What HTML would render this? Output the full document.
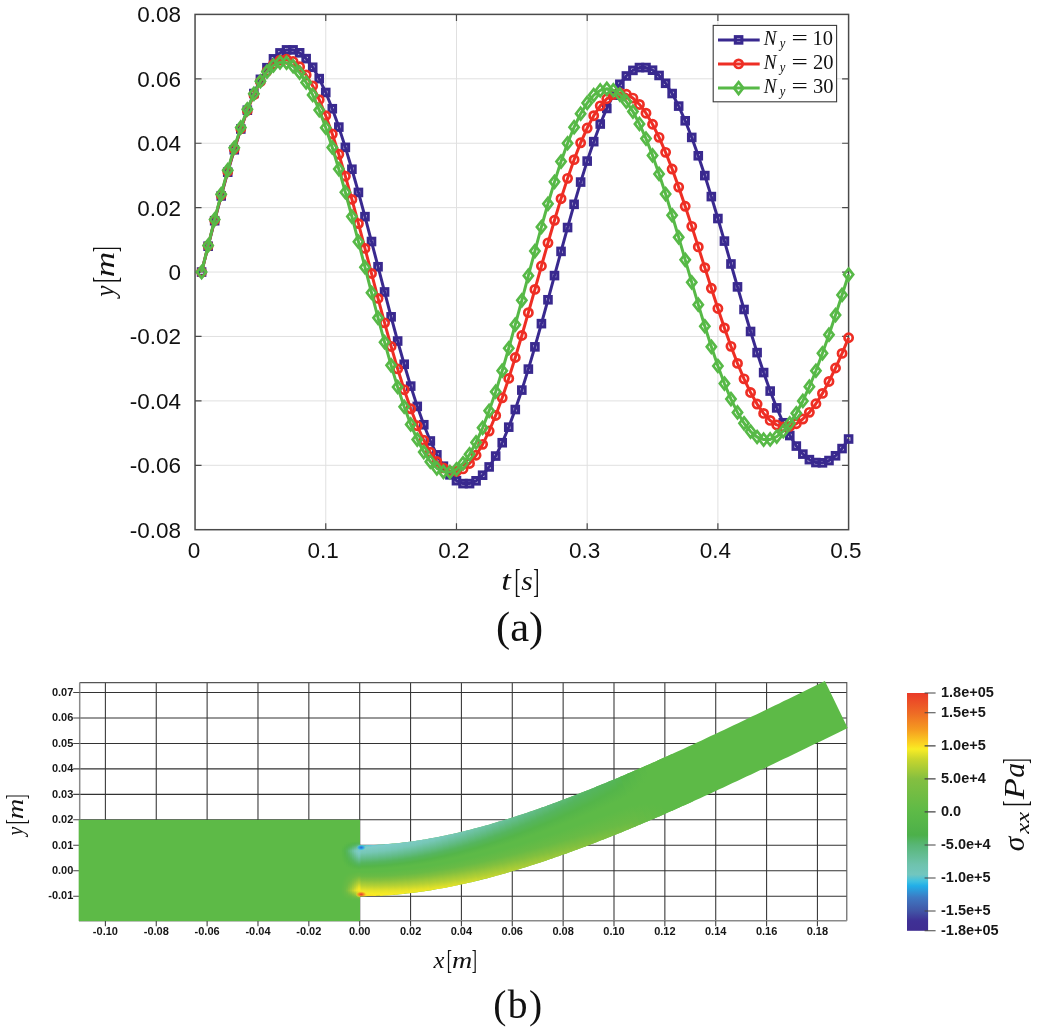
<!DOCTYPE html>
<html><head><meta charset="utf-8"><title>Figure</title>
<style>html,body{margin:0;padding:0;background:#fff}svg{display:block}</style></head>
<body>
<svg width="1037" height="1031" viewBox="0 0 1037 1031">
<defs>
<marker id="mb" markerWidth="12" markerHeight="12" refX="6" refY="6" markerUnits="userSpaceOnUse"><rect x="2.75" y="2.75" width="6.5" height="6.5" fill="none" stroke="#39298f" stroke-width="3.1"/></marker>
<marker id="mr" markerWidth="14" markerHeight="14" refX="7" refY="7" markerUnits="userSpaceOnUse"><circle cx="7" cy="7" r="4.1" fill="none" stroke="#ee2e24" stroke-width="2.7"/></marker>
<marker id="mg" markerWidth="16" markerHeight="18" refX="8" refY="9" markerUnits="userSpaceOnUse"><path d="M8 3.1 L12.6 9 L8 14.9 L3.4 9 Z" fill="none" stroke="#57b947" stroke-width="2.7" stroke-linejoin="miter"/></marker>
</defs>
<rect width="1037" height="1031" fill="#fff"/>
<path d="M325.76 14.4 V529.7 M456.47 14.4 V529.7 M587.18 14.4 V529.7 M717.89 14.4 V529.7 M195.05 465.29 H848.6 M195.05 400.88 H848.6 M195.05 336.46 H848.6 M195.05 272.05 H848.6 M195.05 207.64 H848.6 M195.05 143.23 H848.6 M195.05 78.81 H848.6" stroke="#e0e0e0" stroke-width="1" fill="none"/>
<path d="M325.76 529.7 v-6.5 M325.76 14.4 v6.5 M456.47 529.7 v-6.5 M456.47 14.4 v6.5 M587.18 529.7 v-6.5 M587.18 14.4 v6.5 M717.89 529.7 v-6.5 M717.89 14.4 v6.5 M195.05 465.29 h6.5 M848.6 465.29 h-6.5 M195.05 400.88 h6.5 M848.6 400.88 h-6.5 M195.05 336.46 h6.5 M848.6 336.46 h-6.5 M195.05 272.05 h6.5 M848.6 272.05 h-6.5 M195.05 207.64 h6.5 M848.6 207.64 h-6.5 M195.05 143.23 h6.5 M848.6 143.23 h-6.5 M195.05 78.81 h6.5 M848.6 78.81 h-6.5" stroke="#4a4a4a" stroke-width="1.2" fill="none"/>
<rect x="195.05" y="14.4" width="653.55" height="515.30" fill="none" stroke="#4a4a4a" stroke-width="1.5"/>
<polyline points="201.59,272.05 208.12,246.21 214.66,220.73 221.19,195.94 227.73,172.17 234.26,149.76 240.80,129.00 247.33,110.18 253.87,93.54 260.41,79.32 266.94,67.71 273.48,58.85 280.01,52.89 286.55,49.88 293.08,49.87 299.62,52.81 306.15,58.63 312.69,67.27 319.22,78.61 325.76,92.49 332.30,108.73 338.83,127.10 345.37,147.37 351.90,169.24 358.44,192.44 364.97,216.64 371.51,241.52 378.04,266.74 384.58,291.95 391.12,316.83 397.65,341.03 404.19,364.23 410.72,386.11 417.26,406.37 423.79,424.74 430.33,440.98 436.86,454.86 443.40,466.20 449.93,474.84 456.47,480.67 463.01,483.60 469.54,483.61 476.08,480.80 482.61,475.21 489.15,466.93 495.68,456.05 502.22,442.73 508.75,427.16 515.29,409.53 521.83,390.10 528.36,369.11 534.90,346.86 541.43,323.65 547.97,299.78 554.50,275.59 561.04,251.40 567.57,227.54 574.11,204.32 580.64,182.07 587.18,161.09 593.72,141.65 600.25,124.03 606.79,108.45 613.32,95.14 619.86,84.26 626.39,75.97 632.93,70.38 639.46,67.57 646.00,67.55 652.54,70.20 659.07,75.47 665.61,83.29 672.14,93.54 678.68,106.10 685.21,120.79 691.75,137.43 698.28,155.77 704.82,175.58 711.35,196.60 717.89,218.53 724.43,241.10 730.96,263.98 737.50,286.88 744.03,309.48 750.57,331.49 757.10,352.61 763.64,372.56 770.17,391.06 776.71,407.88 783.24,422.77 789.78,435.55 796.32,446.05 802.85,454.11 809.39,459.64 815.92,462.55 822.46,462.83 828.99,460.55 835.53,455.78 842.06,448.57 848.60,439.02" fill="none" stroke="#39298f" stroke-width="3" stroke-linejoin="round" marker-start="url(#mb)" marker-mid="url(#mb)" marker-end="url(#mb)"/>
<polyline points="201.59,272.05 208.12,245.91 214.66,220.16 221.19,195.21 227.73,171.41 234.26,149.14 240.80,128.72 247.33,110.48 253.87,94.68 260.41,81.57 266.94,71.34 273.48,64.14 280.01,60.10 286.55,59.25 293.08,61.51 299.62,66.77 306.15,74.97 312.69,85.97 319.22,99.63 325.76,115.74 332.30,134.05 338.83,154.31 345.37,176.20 351.90,199.42 358.44,223.61 364.97,248.41 371.51,273.47 378.04,298.41 384.58,322.86 391.12,346.47 397.65,368.88 404.19,389.76 410.72,408.81 417.26,425.74 423.79,440.30 430.33,452.28 436.86,461.51 443.40,467.84 449.93,471.18 456.47,471.50 463.01,468.90 469.54,463.45 476.08,455.23 482.61,444.37 489.15,431.04 495.68,415.43 502.22,397.79 508.75,378.39 515.29,357.52 521.83,335.50 528.36,312.67 534.90,289.38 541.43,265.98 547.97,242.83 554.50,220.28 561.04,198.69 567.57,178.37 574.11,159.64 580.64,142.78 587.18,128.06 593.72,115.69 600.25,105.87 606.79,98.75 613.32,94.43 619.86,92.98 626.39,94.27 632.93,98.12 639.46,104.47 646.00,113.22 652.54,124.24 659.07,137.36 665.61,152.37 672.14,169.04 678.68,187.12 685.21,206.32 691.75,226.35 698.28,246.90 704.82,267.65 711.35,288.29 717.89,308.48 724.43,327.93 730.96,346.33 737.50,363.39 744.03,378.86 750.57,392.49 757.10,404.07 763.64,413.42 770.17,420.41 776.71,424.92 783.24,426.87 789.78,426.38 796.32,423.76 802.85,419.06 809.39,412.37 815.92,403.77 822.46,393.41 828.99,381.43 835.53,368.02 842.06,353.38 848.60,337.74" fill="none" stroke="#ee2e24" stroke-width="3" stroke-linejoin="round" marker-start="url(#mr)" marker-mid="url(#mr)" marker-end="url(#mr)"/>
<polyline points="201.59,272.05 208.12,245.52 214.66,219.42 221.19,194.16 227.73,170.14 234.26,147.76 240.80,127.38 247.33,109.31 253.87,93.85 260.41,81.24 266.94,71.70 273.48,65.36 280.01,62.33 286.55,62.64 293.08,66.13 299.62,72.75 306.15,82.38 312.69,94.88 319.22,110.06 325.76,127.68 332.30,147.46 338.83,169.10 345.37,192.27 351.90,216.60 358.44,241.71 364.97,267.22 371.51,292.73 378.04,317.84 384.58,342.17 391.12,365.33 397.65,386.98 404.19,406.76 410.72,424.38 417.26,439.55 423.79,452.06 430.33,461.69 436.86,468.31 443.40,471.80 449.93,472.12 456.47,469.27 463.01,463.29 469.54,454.29 476.08,442.41 482.61,427.86 489.15,410.86 495.68,391.71 502.22,370.72 508.75,348.24 515.29,324.64 521.83,300.30 528.36,275.65 534.90,251.07 541.43,226.98 547.97,203.78 554.50,181.85 561.04,161.56 567.57,143.24 574.11,127.18 580.64,113.67 587.18,102.93 593.72,95.12 600.25,90.38 606.79,88.80 613.32,90.25 619.86,94.58 626.39,101.73 632.93,111.56 639.46,123.93 646.00,138.62 652.54,155.39 659.07,173.96 665.61,194.03 672.14,215.26 678.68,237.31 685.21,259.80 691.75,282.37 698.28,304.64 704.82,326.24 711.35,346.81 717.89,366.02 724.43,383.55 730.96,399.10 737.50,412.42 744.03,423.29 750.57,431.53 757.10,437.00 763.64,439.61 770.17,439.38 776.71,436.54 783.24,431.18 789.78,423.37 796.32,413.24 802.85,400.96 809.39,386.71 815.92,370.74 822.46,353.28 828.99,334.64 835.53,315.09 842.06,294.96 848.60,274.57" fill="none" stroke="#57b947" stroke-width="3" stroke-linejoin="round" marker-start="url(#mg)" marker-mid="url(#mg)" marker-end="url(#mg)"/>
<g font-family="'Liberation Sans', sans-serif" font-size="22.5" fill="#111">
<text x="193.9" y="558.2" text-anchor="middle">0</text>
<text x="323.2" y="558.2" text-anchor="middle">0.1</text>
<text x="453.9" y="558.2" text-anchor="middle">0.2</text>
<text x="584.6" y="558.2" text-anchor="middle">0.3</text>
<text x="715.3" y="558.2" text-anchor="middle">0.4</text>
<text x="846.0" y="558.2" text-anchor="middle">0.5</text>
<text x="181" y="537.6" text-anchor="end">-0.08</text>
<text x="181" y="473.2" text-anchor="end">-0.06</text>
<text x="181" y="408.8" text-anchor="end">-0.04</text>
<text x="181" y="344.4" text-anchor="end">-0.02</text>
<text x="181" y="279.9" text-anchor="end">0</text>
<text x="181" y="215.5" text-anchor="end">0.02</text>
<text x="181" y="151.1" text-anchor="end">0.04</text>
<text x="181" y="86.7" text-anchor="end">0.06</text>
<text x="181" y="22.3" text-anchor="end">0.08</text>
</g>
<rect x="713.2" y="25.4" width="123.4" height="76.4" fill="#fff" stroke="#3a3a3a" stroke-width="1.1"/>
<polyline points="718,39.9 738.6,39.9 759.7,39.9" fill="none" stroke="#39298f" stroke-width="3" marker-mid="url(#mb)"/>
<text font-family="'Liberation Serif', serif" fill="#111"><tspan x="763.79" y="44.65" font-size="20.5" font-style="italic" textLength="12.79" lengthAdjust="spacingAndGlyphs">N</tspan><tspan x="779.83" y="47.65" font-size="14" font-style="italic" textLength="5.59" lengthAdjust="spacingAndGlyphs">y</tspan><tspan x="791.64" y="44.65" font-size="20.5" textLength="16.33" lengthAdjust="spacingAndGlyphs">=</tspan><tspan x="812.60" y="44.65" font-size="20.5">10</tspan></text>
<polyline points="718,63.9 738.6,63.9 759.7,63.9" fill="none" stroke="#ee2e24" stroke-width="3" marker-mid="url(#mr)"/>
<text font-family="'Liberation Serif', serif" fill="#111"><tspan x="763.79" y="68.65" font-size="20.5" font-style="italic" textLength="12.79" lengthAdjust="spacingAndGlyphs">N</tspan><tspan x="779.83" y="71.65" font-size="14" font-style="italic" textLength="5.59" lengthAdjust="spacingAndGlyphs">y</tspan><tspan x="791.64" y="68.65" font-size="20.5" textLength="16.33" lengthAdjust="spacingAndGlyphs">=</tspan><tspan x="813.00" y="68.65" font-size="20.5">20</tspan></text>
<polyline points="718,88.05 738.6,88.05 759.7,88.05" fill="none" stroke="#57b947" stroke-width="3" marker-mid="url(#mg)"/>
<text font-family="'Liberation Serif', serif" fill="#111"><tspan x="763.79" y="92.80" font-size="20.5" font-style="italic" textLength="12.79" lengthAdjust="spacingAndGlyphs">N</tspan><tspan x="779.83" y="95.80" font-size="14" font-style="italic" textLength="5.59" lengthAdjust="spacingAndGlyphs">y</tspan><tspan x="791.64" y="92.80" font-size="20.5" textLength="16.33" lengthAdjust="spacingAndGlyphs">=</tspan><tspan x="813.00" y="92.80" font-size="20.5">30</tspan></text>
<text font-family="'Liberation Serif', serif" fill="#111"><tspan x="501.32" y="589.80" font-size="28" font-style="italic" textLength="9.62" lengthAdjust="spacingAndGlyphs">t</tspan><tspan x="514.47" y="592.10" font-size="34.2" textLength="6.08" lengthAdjust="spacingAndGlyphs">[</tspan><tspan x="521.20" y="589.80" font-size="26.5" font-style="italic" textLength="11.56" lengthAdjust="spacingAndGlyphs">s</tspan><tspan x="533.35" y="592.10" font-size="34.2" textLength="6.08" lengthAdjust="spacingAndGlyphs">]</tspan></text>
<text font-family="'Liberation Serif', serif" fill="#111" transform="translate(113.9 299.0) rotate(-90)"><tspan x="2.27" y="0.00" font-size="27.5" font-style="italic" textLength="11.18" lengthAdjust="spacingAndGlyphs">y</tspan><tspan x="16.18" y="2.40" font-size="34.3" textLength="5.79" lengthAdjust="spacingAndGlyphs">[</tspan><tspan x="21.84" y="0.00" font-size="27.5" font-style="italic" textLength="25.50" lengthAdjust="spacingAndGlyphs">m</tspan><tspan x="46.68" y="2.40" font-size="34.3" textLength="5.79" lengthAdjust="spacingAndGlyphs">]</tspan></text>
<text font-family="'Liberation Serif', serif" font-size="42.5" fill="#111" x="519.6" y="640.5" text-anchor="middle">(a)</text>
<defs><linearGradient id="g0" gradientUnits="userSpaceOnUse" x1="362.1" y1="845.3" x2="362.4" y2="896.2"><stop offset="0.000" stop-color="#5bc5d8"/><stop offset="0.051" stop-color="#80ccc8"/><stop offset="0.149" stop-color="#76c7b6"/><stop offset="0.256" stop-color="#63bc8a"/><stop offset="0.346" stop-color="#55b55e"/><stop offset="0.414" stop-color="#54b549"/><stop offset="0.477" stop-color="#5dba47"/><stop offset="0.523" stop-color="#5dba47"/><stop offset="0.608" stop-color="#69bb45"/><stop offset="0.679" stop-color="#82c03f"/><stop offset="0.790" stop-color="#b4d034"/><stop offset="0.883" stop-color="#e6e328"/><stop offset="0.949" stop-color="#f8ec25"/><stop offset="0.997" stop-color="#fbd821"/><stop offset="1.000" stop-color="#fbd721"/></linearGradient>
<linearGradient id="g1" gradientUnits="userSpaceOnUse" x1="368.0" y1="845.2" x2="369.2" y2="896.1"><stop offset="0.000" stop-color="#62c6d5"/><stop offset="0.043" stop-color="#80ccc8"/><stop offset="0.142" stop-color="#76c7b6"/><stop offset="0.251" stop-color="#63bc8a"/><stop offset="0.343" stop-color="#55b55e"/><stop offset="0.412" stop-color="#54b549"/><stop offset="0.476" stop-color="#5dba47"/><stop offset="0.524" stop-color="#5dba47"/><stop offset="0.610" stop-color="#69bb45"/><stop offset="0.683" stop-color="#82c03f"/><stop offset="0.796" stop-color="#b4d034"/><stop offset="0.890" stop-color="#e6e328"/><stop offset="0.957" stop-color="#f8ec25"/><stop offset="1.000" stop-color="#fbda21"/></linearGradient>
<linearGradient id="g2" gradientUnits="userSpaceOnUse" x1="373.9" y1="845.0" x2="376.0" y2="895.9"><stop offset="0.000" stop-color="#69c8d3"/><stop offset="0.034" stop-color="#80ccc8"/><stop offset="0.135" stop-color="#76c7b6"/><stop offset="0.247" stop-color="#63bc8a"/><stop offset="0.340" stop-color="#55b55e"/><stop offset="0.410" stop-color="#54b549"/><stop offset="0.476" stop-color="#5dba47"/><stop offset="0.524" stop-color="#5dba47"/><stop offset="0.612" stop-color="#69bb45"/><stop offset="0.686" stop-color="#82c03f"/><stop offset="0.801" stop-color="#b4d034"/><stop offset="0.898" stop-color="#e6e328"/><stop offset="0.966" stop-color="#f8ec25"/><stop offset="1.000" stop-color="#fade22"/></linearGradient>
<linearGradient id="g3" gradientUnits="userSpaceOnUse" x1="381.0" y1="844.6" x2="384.1" y2="895.5"><stop offset="0.000" stop-color="#70c9cf"/><stop offset="0.023" stop-color="#80ccc8"/><stop offset="0.127" stop-color="#76c7b6"/><stop offset="0.241" stop-color="#63bc8a"/><stop offset="0.336" stop-color="#55b55e"/><stop offset="0.408" stop-color="#54b549"/><stop offset="0.475" stop-color="#5dba47"/><stop offset="0.525" stop-color="#5dba47"/><stop offset="0.615" stop-color="#69bb45"/><stop offset="0.691" stop-color="#82c03f"/><stop offset="0.808" stop-color="#b4d034"/><stop offset="0.907" stop-color="#e6e328"/><stop offset="0.977" stop-color="#f8ec25"/><stop offset="1.000" stop-color="#f9e323"/></linearGradient>
<linearGradient id="g4" gradientUnits="userSpaceOnUse" x1="387.0" y1="844.2" x2="390.9" y2="895.0"><stop offset="0.000" stop-color="#77cacc"/><stop offset="0.013" stop-color="#80ccc8"/><stop offset="0.119" stop-color="#76c7b6"/><stop offset="0.236" stop-color="#63bc8a"/><stop offset="0.333" stop-color="#55b55e"/><stop offset="0.406" stop-color="#54b549"/><stop offset="0.475" stop-color="#5dba47"/><stop offset="0.525" stop-color="#5dba47"/><stop offset="0.617" stop-color="#69bb45"/><stop offset="0.695" stop-color="#82c03f"/><stop offset="0.815" stop-color="#b4d034"/><stop offset="0.915" stop-color="#e6e328"/><stop offset="0.987" stop-color="#f8ec25"/><stop offset="1.000" stop-color="#f9e724"/></linearGradient>
<linearGradient id="g5" gradientUnits="userSpaceOnUse" x1="392.9" y1="843.6" x2="397.6" y2="894.4"><stop offset="0.000" stop-color="#7eccc9"/><stop offset="0.003" stop-color="#80ccc8"/><stop offset="0.112" stop-color="#76c7b6"/><stop offset="0.230" stop-color="#63bc8a"/><stop offset="0.329" stop-color="#55b55e"/><stop offset="0.404" stop-color="#54b549"/><stop offset="0.474" stop-color="#5dba47"/><stop offset="0.526" stop-color="#5dba47"/><stop offset="0.619" stop-color="#69bb45"/><stop offset="0.698" stop-color="#82c03f"/><stop offset="0.821" stop-color="#b4d034"/><stop offset="0.924" stop-color="#e6e328"/><stop offset="0.997" stop-color="#f8ec25"/><stop offset="1.000" stop-color="#f8eb25"/></linearGradient>
<linearGradient id="g6" gradientUnits="userSpaceOnUse" x1="398.8" y1="843.0" x2="404.3" y2="893.8"><stop offset="0.000" stop-color="#7fccc7"/><stop offset="0.103" stop-color="#76c7b6"/><stop offset="0.224" stop-color="#63bc8a"/><stop offset="0.326" stop-color="#55b55e"/><stop offset="0.402" stop-color="#54b549"/><stop offset="0.474" stop-color="#5dba47"/><stop offset="0.526" stop-color="#5dba47"/><stop offset="0.622" stop-color="#69bb45"/><stop offset="0.703" stop-color="#82c03f"/><stop offset="0.828" stop-color="#b4d034"/><stop offset="0.932" stop-color="#e6e328"/><stop offset="1.000" stop-color="#f6eb25"/></linearGradient>
<linearGradient id="g7" gradientUnits="userSpaceOnUse" x1="406.0" y1="842.2" x2="412.3" y2="892.9"><stop offset="0.000" stop-color="#7ecbc5"/><stop offset="0.093" stop-color="#76c7b6"/><stop offset="0.217" stop-color="#63bc8a"/><stop offset="0.321" stop-color="#55b55e"/><stop offset="0.400" stop-color="#54b549"/><stop offset="0.473" stop-color="#5dba47"/><stop offset="0.527" stop-color="#5dba47"/><stop offset="0.625" stop-color="#69bb45"/><stop offset="0.708" stop-color="#82c03f"/><stop offset="0.836" stop-color="#b4d034"/><stop offset="0.943" stop-color="#e6e328"/><stop offset="1.000" stop-color="#f3ea26"/></linearGradient>
<linearGradient id="g8" gradientUnits="userSpaceOnUse" x1="411.9" y1="841.4" x2="419.0" y2="892.0"><stop offset="0.000" stop-color="#7dcbc3"/><stop offset="0.085" stop-color="#76c7b6"/><stop offset="0.211" stop-color="#63bc8a"/><stop offset="0.317" stop-color="#55b55e"/><stop offset="0.398" stop-color="#54b549"/><stop offset="0.472" stop-color="#5dba47"/><stop offset="0.528" stop-color="#5dba47"/><stop offset="0.628" stop-color="#69bb45"/><stop offset="0.712" stop-color="#82c03f"/><stop offset="0.843" stop-color="#b4d034"/><stop offset="0.953" stop-color="#e6e328"/><stop offset="1.000" stop-color="#f1e826"/></linearGradient>
<linearGradient id="g9" gradientUnits="userSpaceOnUse" x1="417.9" y1="840.5" x2="425.6" y2="891.0"><stop offset="0.000" stop-color="#7ccac2"/><stop offset="0.075" stop-color="#76c7b6"/><stop offset="0.205" stop-color="#63bc8a"/><stop offset="0.313" stop-color="#55b55e"/><stop offset="0.395" stop-color="#54b549"/><stop offset="0.472" stop-color="#5dba47"/><stop offset="0.528" stop-color="#5dba47"/><stop offset="0.630" stop-color="#69bb45"/><stop offset="0.717" stop-color="#82c03f"/><stop offset="0.851" stop-color="#b4d034"/><stop offset="0.963" stop-color="#e6e328"/><stop offset="1.000" stop-color="#eee727"/></linearGradient>
<linearGradient id="g10" gradientUnits="userSpaceOnUse" x1="425.1" y1="839.4" x2="433.5" y2="889.8"><stop offset="0.000" stop-color="#7bcac0"/><stop offset="0.064" stop-color="#76c7b6"/><stop offset="0.197" stop-color="#63bc8a"/><stop offset="0.308" stop-color="#55b55e"/><stop offset="0.393" stop-color="#54b549"/><stop offset="0.471" stop-color="#5dba47"/><stop offset="0.529" stop-color="#5dba47"/><stop offset="0.634" stop-color="#69bb45"/><stop offset="0.723" stop-color="#82c03f"/><stop offset="0.860" stop-color="#b4d034"/><stop offset="0.976" stop-color="#e6e328"/><stop offset="1.000" stop-color="#ebe627"/></linearGradient>
<linearGradient id="g11" gradientUnits="userSpaceOnUse" x1="431.0" y1="838.3" x2="440.1" y2="888.6"><stop offset="0.000" stop-color="#7ac9be"/><stop offset="0.054" stop-color="#76c7b6"/><stop offset="0.190" stop-color="#63bc8a"/><stop offset="0.304" stop-color="#55b55e"/><stop offset="0.390" stop-color="#54b549"/><stop offset="0.470" stop-color="#5dba47"/><stop offset="0.530" stop-color="#5dba47"/><stop offset="0.637" stop-color="#69bb45"/><stop offset="0.728" stop-color="#82c03f"/><stop offset="0.869" stop-color="#b4d034"/><stop offset="0.987" stop-color="#e6e328"/><stop offset="1.000" stop-color="#e9e428"/></linearGradient>
<linearGradient id="g12" gradientUnits="userSpaceOnUse" x1="437.0" y1="837.2" x2="446.6" y2="887.4"><stop offset="0.000" stop-color="#79c9bc"/><stop offset="0.043" stop-color="#76c7b6"/><stop offset="0.183" stop-color="#63bc8a"/><stop offset="0.299" stop-color="#55b55e"/><stop offset="0.387" stop-color="#54b549"/><stop offset="0.470" stop-color="#5dba47"/><stop offset="0.530" stop-color="#5dba47"/><stop offset="0.640" stop-color="#69bb45"/><stop offset="0.733" stop-color="#82c03f"/><stop offset="0.878" stop-color="#b4d034"/><stop offset="0.998" stop-color="#e6e328"/><stop offset="1.000" stop-color="#e6e328"/></linearGradient>
<linearGradient id="g13" gradientUnits="userSpaceOnUse" x1="442.9" y1="836.0" x2="453.1" y2="886.1"><stop offset="0.000" stop-color="#79c8bb"/><stop offset="0.032" stop-color="#76c7b6"/><stop offset="0.175" stop-color="#63bc8a"/><stop offset="0.294" stop-color="#55b55e"/><stop offset="0.385" stop-color="#54b549"/><stop offset="0.469" stop-color="#5dba47"/><stop offset="0.531" stop-color="#5dba47"/><stop offset="0.644" stop-color="#69bb45"/><stop offset="0.739" stop-color="#82c03f"/><stop offset="0.887" stop-color="#b4d034"/><stop offset="1.000" stop-color="#e2e129"/></linearGradient>
<linearGradient id="g14" gradientUnits="userSpaceOnUse" x1="450.0" y1="834.5" x2="460.9" y2="884.5"><stop offset="0.000" stop-color="#77c8b9"/><stop offset="0.018" stop-color="#76c7b6"/><stop offset="0.165" stop-color="#63bc8a"/><stop offset="0.288" stop-color="#55b55e"/><stop offset="0.381" stop-color="#54b549"/><stop offset="0.468" stop-color="#5dba47"/><stop offset="0.532" stop-color="#5dba47"/><stop offset="0.648" stop-color="#69bb45"/><stop offset="0.746" stop-color="#82c03f"/><stop offset="0.898" stop-color="#b4d034"/><stop offset="1.000" stop-color="#dcdf2a"/></linearGradient>
<linearGradient id="g15" gradientUnits="userSpaceOnUse" x1="456.0" y1="833.2" x2="467.4" y2="883.0"><stop offset="0.000" stop-color="#76c7b7"/><stop offset="0.006" stop-color="#76c7b6"/><stop offset="0.157" stop-color="#63bc8a"/><stop offset="0.283" stop-color="#55b55e"/><stop offset="0.378" stop-color="#54b549"/><stop offset="0.467" stop-color="#5dba47"/><stop offset="0.533" stop-color="#5dba47"/><stop offset="0.652" stop-color="#69bb45"/><stop offset="0.752" stop-color="#82c03f"/><stop offset="0.908" stop-color="#b4d034"/><stop offset="1.000" stop-color="#d8de2b"/></linearGradient>
<linearGradient id="g16" gradientUnits="userSpaceOnUse" x1="461.9" y1="831.8" x2="473.8" y2="881.5"><stop offset="0.000" stop-color="#75c7b4"/><stop offset="0.148" stop-color="#63bc8a"/><stop offset="0.277" stop-color="#55b55e"/><stop offset="0.375" stop-color="#54b549"/><stop offset="0.466" stop-color="#5dba47"/><stop offset="0.534" stop-color="#5dba47"/><stop offset="0.656" stop-color="#69bb45"/><stop offset="0.759" stop-color="#82c03f"/><stop offset="0.919" stop-color="#b4d034"/><stop offset="1.000" stop-color="#d3dc2d"/></linearGradient>
<linearGradient id="g17" gradientUnits="userSpaceOnUse" x1="469.0" y1="830.0" x2="481.5" y2="879.7"><stop offset="0.000" stop-color="#73c5b0"/><stop offset="0.137" stop-color="#63bc8a"/><stop offset="0.270" stop-color="#55b55e"/><stop offset="0.371" stop-color="#54b549"/><stop offset="0.465" stop-color="#5dba47"/><stop offset="0.535" stop-color="#5dba47"/><stop offset="0.661" stop-color="#69bb45"/><stop offset="0.767" stop-color="#82c03f"/><stop offset="0.932" stop-color="#b4d034"/><stop offset="1.000" stop-color="#cdda2e"/></linearGradient>
<linearGradient id="g18" gradientUnits="userSpaceOnUse" x1="475.0" y1="828.5" x2="487.9" y2="878.0"><stop offset="0.000" stop-color="#72c5ac"/><stop offset="0.127" stop-color="#63bc8a"/><stop offset="0.264" stop-color="#55b55e"/><stop offset="0.368" stop-color="#54b549"/><stop offset="0.464" stop-color="#5dba47"/><stop offset="0.536" stop-color="#5dba47"/><stop offset="0.665" stop-color="#69bb45"/><stop offset="0.774" stop-color="#82c03f"/><stop offset="0.944" stop-color="#b4d034"/><stop offset="1.000" stop-color="#c8d82f"/></linearGradient>
<linearGradient id="g19" gradientUnits="userSpaceOnUse" x1="480.9" y1="826.9" x2="494.3" y2="876.3"><stop offset="0.000" stop-color="#70c4a9"/><stop offset="0.116" stop-color="#63bc8a"/><stop offset="0.257" stop-color="#55b55e"/><stop offset="0.364" stop-color="#54b549"/><stop offset="0.463" stop-color="#5dba47"/><stop offset="0.537" stop-color="#5dba47"/><stop offset="0.669" stop-color="#69bb45"/><stop offset="0.782" stop-color="#82c03f"/><stop offset="0.956" stop-color="#b4d034"/><stop offset="1.000" stop-color="#c4d630"/></linearGradient>
<linearGradient id="g20" gradientUnits="userSpaceOnUse" x1="486.8" y1="825.2" x2="500.6" y2="874.6"><stop offset="0.000" stop-color="#6fc3a5"/><stop offset="0.106" stop-color="#63bc8a"/><stop offset="0.250" stop-color="#55b55e"/><stop offset="0.360" stop-color="#54b549"/><stop offset="0.462" stop-color="#5dba47"/><stop offset="0.538" stop-color="#5dba47"/><stop offset="0.674" stop-color="#69bb45"/><stop offset="0.790" stop-color="#82c03f"/><stop offset="0.969" stop-color="#b4d034"/><stop offset="1.000" stop-color="#bfd431"/></linearGradient>
<linearGradient id="g21" gradientUnits="userSpaceOnUse" x1="493.9" y1="823.2" x2="508.2" y2="872.4"><stop offset="0.000" stop-color="#6dc2a1"/><stop offset="0.092" stop-color="#63bc8a"/><stop offset="0.242" stop-color="#55b55e"/><stop offset="0.355" stop-color="#54b549"/><stop offset="0.461" stop-color="#5dba47"/><stop offset="0.539" stop-color="#5dba47"/><stop offset="0.680" stop-color="#69bb45"/><stop offset="0.800" stop-color="#82c03f"/><stop offset="0.985" stop-color="#b4d034"/><stop offset="1.000" stop-color="#b9d233"/></linearGradient>
<linearGradient id="g22" gradientUnits="userSpaceOnUse" x1="499.8" y1="821.4" x2="514.5" y2="870.6"><stop offset="0.000" stop-color="#6bc19e"/><stop offset="0.080" stop-color="#63bc8a"/><stop offset="0.234" stop-color="#55b55e"/><stop offset="0.351" stop-color="#54b549"/><stop offset="0.460" stop-color="#5dba47"/><stop offset="0.540" stop-color="#5dba47"/><stop offset="0.686" stop-color="#69bb45"/><stop offset="0.809" stop-color="#82c03f"/><stop offset="1.000" stop-color="#b4d034"/><stop offset="1.000" stop-color="#b4d034"/></linearGradient>
<linearGradient id="g23" gradientUnits="userSpaceOnUse" x1="505.7" y1="819.6" x2="520.8" y2="868.7"><stop offset="0.000" stop-color="#6ac09a"/><stop offset="0.067" stop-color="#63bc8a"/><stop offset="0.226" stop-color="#55b55e"/><stop offset="0.346" stop-color="#54b549"/><stop offset="0.459" stop-color="#5dba47"/><stop offset="0.541" stop-color="#5dba47"/><stop offset="0.691" stop-color="#69bb45"/><stop offset="0.819" stop-color="#82c03f"/><stop offset="1.000" stop-color="#b0cf35"/></linearGradient>
<linearGradient id="g24" gradientUnits="userSpaceOnUse" x1="512.8" y1="817.4" x2="528.3" y2="866.3"><stop offset="0.000" stop-color="#68bf96"/><stop offset="0.050" stop-color="#63bc8a"/><stop offset="0.216" stop-color="#55b55e"/><stop offset="0.341" stop-color="#54b549"/><stop offset="0.457" stop-color="#5dba47"/><stop offset="0.543" stop-color="#5dba47"/><stop offset="0.699" stop-color="#69bb45"/><stop offset="0.831" stop-color="#82c03f"/><stop offset="1.000" stop-color="#accd36"/></linearGradient>
<linearGradient id="g25" gradientUnits="userSpaceOnUse" x1="518.6" y1="815.5" x2="534.5" y2="864.3"><stop offset="0.000" stop-color="#66be92"/><stop offset="0.036" stop-color="#63bc8a"/><stop offset="0.206" stop-color="#55b55e"/><stop offset="0.335" stop-color="#54b549"/><stop offset="0.456" stop-color="#5dba47"/><stop offset="0.544" stop-color="#5dba47"/><stop offset="0.705" stop-color="#69bb45"/><stop offset="0.841" stop-color="#82c03f"/><stop offset="1.000" stop-color="#a8cc37"/></linearGradient>
<linearGradient id="g26" gradientUnits="userSpaceOnUse" x1="524.5" y1="813.6" x2="540.7" y2="862.3"><stop offset="0.000" stop-color="#65bd8e"/><stop offset="0.020" stop-color="#63bc8a"/><stop offset="0.197" stop-color="#55b55e"/><stop offset="0.330" stop-color="#54b549"/><stop offset="0.454" stop-color="#5dba47"/><stop offset="0.546" stop-color="#5dba47"/><stop offset="0.712" stop-color="#69bb45"/><stop offset="0.853" stop-color="#82c03f"/><stop offset="1.000" stop-color="#a5cb37"/></linearGradient>
<linearGradient id="g27" gradientUnits="userSpaceOnUse" x1="530.4" y1="811.6" x2="546.9" y2="860.2"><stop offset="0.000" stop-color="#63bc8b"/><stop offset="0.004" stop-color="#63bc8a"/><stop offset="0.186" stop-color="#55b55e"/><stop offset="0.324" stop-color="#54b549"/><stop offset="0.453" stop-color="#5dba47"/><stop offset="0.547" stop-color="#5dba47"/><stop offset="0.719" stop-color="#69bb45"/><stop offset="0.865" stop-color="#82c03f"/><stop offset="1.000" stop-color="#a1ca38"/></linearGradient>
<linearGradient id="g28" gradientUnits="userSpaceOnUse" x1="537.4" y1="809.2" x2="554.3" y2="857.7"><stop offset="0.000" stop-color="#62bb86"/><stop offset="0.173" stop-color="#55b55e"/><stop offset="0.317" stop-color="#54b549"/><stop offset="0.451" stop-color="#5dba47"/><stop offset="0.549" stop-color="#5dba47"/><stop offset="0.728" stop-color="#69bb45"/><stop offset="0.880" stop-color="#82c03f"/><stop offset="1.000" stop-color="#9cc839"/></linearGradient>
<linearGradient id="g29" gradientUnits="userSpaceOnUse" x1="543.3" y1="807.1" x2="560.4" y2="855.5"><stop offset="0.000" stop-color="#61bb83"/><stop offset="0.161" stop-color="#55b55e"/><stop offset="0.310" stop-color="#54b549"/><stop offset="0.449" stop-color="#5dba47"/><stop offset="0.551" stop-color="#5dba47"/><stop offset="0.736" stop-color="#69bb45"/><stop offset="0.894" stop-color="#82c03f"/><stop offset="1.000" stop-color="#99c73a"/></linearGradient>
<linearGradient id="g30" gradientUnits="userSpaceOnUse" x1="549.1" y1="805.0" x2="566.6" y2="853.4"><stop offset="0.000" stop-color="#5fba7f"/><stop offset="0.149" stop-color="#55b55e"/><stop offset="0.303" stop-color="#54b549"/><stop offset="0.447" stop-color="#5dba47"/><stop offset="0.553" stop-color="#5dba47"/><stop offset="0.745" stop-color="#69bb45"/><stop offset="0.908" stop-color="#82c03f"/><stop offset="1.000" stop-color="#95c63b"/></linearGradient>
<linearGradient id="g31" gradientUnits="userSpaceOnUse" x1="555.0" y1="802.8" x2="572.7" y2="851.1"><stop offset="0.000" stop-color="#5eba7b"/><stop offset="0.136" stop-color="#55b55e"/><stop offset="0.296" stop-color="#54b549"/><stop offset="0.445" stop-color="#5dba47"/><stop offset="0.555" stop-color="#5dba47"/><stop offset="0.754" stop-color="#69bb45"/><stop offset="0.924" stop-color="#82c03f"/><stop offset="1.000" stop-color="#91c53c"/></linearGradient>
<linearGradient id="g32" gradientUnits="userSpaceOnUse" x1="562.0" y1="800.2" x2="580.0" y2="848.4"><stop offset="0.000" stop-color="#5db976"/><stop offset="0.119" stop-color="#55b55e"/><stop offset="0.286" stop-color="#54b549"/><stop offset="0.442" stop-color="#5dba47"/><stop offset="0.558" stop-color="#5dba47"/><stop offset="0.766" stop-color="#69bb45"/><stop offset="0.943" stop-color="#82c03f"/><stop offset="1.000" stop-color="#8dc43d"/></linearGradient>
<linearGradient id="g33" gradientUnits="userSpaceOnUse" x1="567.8" y1="798.0" x2="586.0" y2="846.2"><stop offset="0.000" stop-color="#5cb872"/><stop offset="0.103" stop-color="#55b55e"/><stop offset="0.278" stop-color="#54b549"/><stop offset="0.440" stop-color="#5dba47"/><stop offset="0.560" stop-color="#5dba47"/><stop offset="0.777" stop-color="#69bb45"/><stop offset="0.961" stop-color="#82c03f"/><stop offset="1.000" stop-color="#89c23d"/></linearGradient>
<linearGradient id="g34" gradientUnits="userSpaceOnUse" x1="573.6" y1="795.8" x2="592.1" y2="843.8"><stop offset="0.000" stop-color="#5ab86f"/><stop offset="0.087" stop-color="#55b55e"/><stop offset="0.268" stop-color="#54b549"/><stop offset="0.437" stop-color="#5dba47"/><stop offset="0.563" stop-color="#5dba47"/><stop offset="0.789" stop-color="#69bb45"/><stop offset="0.980" stop-color="#82c03f"/><stop offset="1.000" stop-color="#86c13e"/></linearGradient>
<linearGradient id="g35" gradientUnits="userSpaceOnUse" x1="580.6" y1="793.1" x2="599.3" y2="841.0"><stop offset="0.000" stop-color="#59b76a"/><stop offset="0.065" stop-color="#55b55e"/><stop offset="0.257" stop-color="#54b549"/><stop offset="0.434" stop-color="#5dba47"/><stop offset="0.566" stop-color="#5dba47"/><stop offset="0.803" stop-color="#69bb45"/><stop offset="1.000" stop-color="#81c03f"/></linearGradient>
<linearGradient id="g36" gradientUnits="userSpaceOnUse" x1="586.4" y1="790.8" x2="605.4" y2="838.7"><stop offset="0.000" stop-color="#58b666"/><stop offset="0.046" stop-color="#55b55e"/><stop offset="0.246" stop-color="#54b549"/><stop offset="0.431" stop-color="#5dba47"/><stop offset="0.569" stop-color="#5dba47"/><stop offset="0.817" stop-color="#69bb45"/><stop offset="1.000" stop-color="#7fbf40"/></linearGradient>
<linearGradient id="g37" gradientUnits="userSpaceOnUse" x1="592.2" y1="788.4" x2="611.4" y2="836.3"><stop offset="0.000" stop-color="#56b662"/><stop offset="0.026" stop-color="#55b55e"/><stop offset="0.234" stop-color="#54b549"/><stop offset="0.428" stop-color="#5dba47"/><stop offset="0.572" stop-color="#5dba47"/><stop offset="0.831" stop-color="#69bb45"/><stop offset="1.000" stop-color="#7cbf40"/></linearGradient>
<linearGradient id="g38" gradientUnits="userSpaceOnUse" x1="598.0" y1="786.1" x2="617.4" y2="833.9"><stop offset="0.000" stop-color="#55b55f"/><stop offset="0.004" stop-color="#55b55e"/><stop offset="0.222" stop-color="#54b549"/><stop offset="0.425" stop-color="#5dba47"/><stop offset="0.575" stop-color="#5dba47"/><stop offset="0.847" stop-color="#69bb45"/><stop offset="1.000" stop-color="#7abe41"/></linearGradient>
<linearGradient id="g39" gradientUnits="userSpaceOnUse" x1="604.9" y1="783.2" x2="624.5" y2="830.9"><stop offset="0.000" stop-color="#55b55c"/><stop offset="0.206" stop-color="#54b549"/><stop offset="0.420" stop-color="#5dba47"/><stop offset="0.580" stop-color="#5dba47"/><stop offset="0.867" stop-color="#69bb45"/><stop offset="1.000" stop-color="#77be42"/></linearGradient>
<linearGradient id="g40" gradientUnits="userSpaceOnUse" x1="610.7" y1="780.8" x2="630.5" y2="828.5"><stop offset="0.000" stop-color="#55b55a"/><stop offset="0.191" stop-color="#54b549"/><stop offset="0.416" stop-color="#5dba47"/><stop offset="0.584" stop-color="#5dba47"/><stop offset="0.885" stop-color="#69bb45"/><stop offset="1.000" stop-color="#75bd42"/></linearGradient>
<linearGradient id="g41" gradientUnits="userSpaceOnUse" x1="616.5" y1="778.4" x2="636.5" y2="826.0"><stop offset="0.000" stop-color="#55b555"/><stop offset="0.154" stop-color="#54b549"/><stop offset="0.407" stop-color="#5dba47"/><stop offset="0.593" stop-color="#5dba47"/><stop offset="0.931" stop-color="#69bb45"/><stop offset="1.000" stop-color="#6fbc43"/></linearGradient>
<linearGradient id="g42" gradientUnits="userSpaceOnUse" x1="623.4" y1="775.5" x2="643.6" y2="823.0"><stop offset="0.000" stop-color="#54b54c"/><stop offset="0.051" stop-color="#54b549"/><stop offset="0.379" stop-color="#5dba47"/><stop offset="0.621" stop-color="#5dba47"/><stop offset="1.000" stop-color="#68bb45"/></linearGradient>
<linearGradient id="g43" gradientUnits="userSpaceOnUse" x1="629.2" y1="773.0" x2="649.5" y2="820.5"><stop offset="0.000" stop-color="#55b649"/><stop offset="0.345" stop-color="#5dba47"/><stop offset="0.655" stop-color="#5dba47"/><stop offset="1.000" stop-color="#65bb46"/></linearGradient>
<linearGradient id="g44" gradientUnits="userSpaceOnUse" x1="635.0" y1="770.5" x2="655.4" y2="817.9"><stop offset="0.000" stop-color="#58b748"/><stop offset="0.296" stop-color="#5dba47"/><stop offset="0.704" stop-color="#5dba47"/><stop offset="1.000" stop-color="#62ba46"/></linearGradient>
<linearGradient id="g45" gradientUnits="userSpaceOnUse" x1="640.7" y1="768.0" x2="661.3" y2="815.4"><stop offset="0.000" stop-color="#5ab848"/><stop offset="0.219" stop-color="#5dba47"/><stop offset="0.781" stop-color="#5dba47"/><stop offset="1.000" stop-color="#60ba46"/></linearGradient>
<linearGradient id="g46" gradientUnits="userSpaceOnUse" x1="647.6" y1="765.0" x2="668.4" y2="812.3"><stop offset="0.000" stop-color="#5dba47"/><stop offset="0.053" stop-color="#5dba47"/><stop offset="0.947" stop-color="#5dba47"/><stop offset="1.000" stop-color="#5eba47"/></linearGradient>
<linearGradient id="g47" gradientUnits="userSpaceOnUse" x1="653.4" y1="762.4" x2="674.3" y2="809.7"><stop offset="0.000" stop-color="#5dba47"/><stop offset="1.000" stop-color="#5dba47"/></linearGradient>
<linearGradient id="g48" gradientUnits="userSpaceOnUse" x1="659.1" y1="759.8" x2="680.2" y2="807.1"><stop offset="0.000" stop-color="#5dba47"/><stop offset="1.000" stop-color="#5dba47"/></linearGradient>
<linearGradient id="g49" gradientUnits="userSpaceOnUse" x1="666.0" y1="756.7" x2="687.2" y2="804.0"><stop offset="0.000" stop-color="#5dba47"/><stop offset="1.000" stop-color="#5dba47"/></linearGradient>
<linearGradient id="d0" gradientUnits="userSpaceOnUse" x1="0" y1="833.8" x2="0" y2="907.7"><stop offset="0.000" stop-color="#5dba47"/><stop offset="0.026" stop-color="#5dba47"/><stop offset="0.051" stop-color="#5dba47"/><stop offset="0.077" stop-color="#5dba47"/><stop offset="0.103" stop-color="#5dba47"/><stop offset="0.128" stop-color="#5dba47"/><stop offset="0.154" stop-color="#5dba47"/><stop offset="0.179" stop-color="#5dba47"/><stop offset="0.205" stop-color="#5dba47"/><stop offset="0.231" stop-color="#5dba47"/><stop offset="0.256" stop-color="#5dba47"/><stop offset="0.282" stop-color="#5dba47"/><stop offset="0.308" stop-color="#5dba47"/><stop offset="0.333" stop-color="#5dba47"/><stop offset="0.359" stop-color="#5dba47"/><stop offset="0.385" stop-color="#5dba47"/><stop offset="0.410" stop-color="#5dba47"/><stop offset="0.436" stop-color="#5dba47"/><stop offset="0.462" stop-color="#5dba47"/><stop offset="0.487" stop-color="#5dba47"/><stop offset="0.513" stop-color="#5dba47"/><stop offset="0.538" stop-color="#5dba47"/><stop offset="0.564" stop-color="#5dba47"/><stop offset="0.590" stop-color="#5dba47"/><stop offset="0.615" stop-color="#5dba47"/><stop offset="0.641" stop-color="#5dba47"/><stop offset="0.667" stop-color="#5dba47"/><stop offset="0.692" stop-color="#5dba47"/><stop offset="0.718" stop-color="#5dba47"/><stop offset="0.744" stop-color="#5dba47"/><stop offset="0.769" stop-color="#5dba47"/><stop offset="0.795" stop-color="#5dba47"/><stop offset="0.821" stop-color="#5dba47"/><stop offset="0.846" stop-color="#5dba47"/><stop offset="0.872" stop-color="#5dba47"/><stop offset="0.897" stop-color="#5dba47"/><stop offset="0.923" stop-color="#5dba47"/><stop offset="0.949" stop-color="#5dba47"/><stop offset="0.974" stop-color="#5dba47"/><stop offset="1.000" stop-color="#5dba47"/></linearGradient>
<linearGradient id="d1" gradientUnits="userSpaceOnUse" x1="0" y1="833.8" x2="0" y2="907.7"><stop offset="0.000" stop-color="#5dba47"/><stop offset="0.026" stop-color="#5dba47"/><stop offset="0.051" stop-color="#5dba47"/><stop offset="0.077" stop-color="#5dba47"/><stop offset="0.103" stop-color="#5dba47"/><stop offset="0.128" stop-color="#5dba47"/><stop offset="0.154" stop-color="#5dba47"/><stop offset="0.179" stop-color="#5bb947"/><stop offset="0.205" stop-color="#59b848"/><stop offset="0.231" stop-color="#58b748"/><stop offset="0.256" stop-color="#59b848"/><stop offset="0.282" stop-color="#59b848"/><stop offset="0.308" stop-color="#5ab848"/><stop offset="0.333" stop-color="#5bb947"/><stop offset="0.359" stop-color="#5cb947"/><stop offset="0.385" stop-color="#5dba47"/><stop offset="0.410" stop-color="#5dba47"/><stop offset="0.436" stop-color="#5dba47"/><stop offset="0.462" stop-color="#5dba47"/><stop offset="0.487" stop-color="#5dba47"/><stop offset="0.513" stop-color="#5dba47"/><stop offset="0.538" stop-color="#5dba47"/><stop offset="0.564" stop-color="#5dba47"/><stop offset="0.590" stop-color="#5dba47"/><stop offset="0.615" stop-color="#5dba47"/><stop offset="0.641" stop-color="#5eba47"/><stop offset="0.667" stop-color="#5fba47"/><stop offset="0.692" stop-color="#60ba47"/><stop offset="0.718" stop-color="#61ba46"/><stop offset="0.744" stop-color="#62ba46"/><stop offset="0.769" stop-color="#62ba46"/><stop offset="0.795" stop-color="#61ba46"/><stop offset="0.821" stop-color="#5fba47"/><stop offset="0.846" stop-color="#5dba47"/><stop offset="0.872" stop-color="#5dba47"/><stop offset="0.897" stop-color="#5dba47"/><stop offset="0.923" stop-color="#5dba47"/><stop offset="0.949" stop-color="#5dba47"/><stop offset="0.974" stop-color="#5dba47"/><stop offset="1.000" stop-color="#5dba47"/></linearGradient>
<linearGradient id="d2" gradientUnits="userSpaceOnUse" x1="0" y1="833.8" x2="0" y2="907.7"><stop offset="0.000" stop-color="#5dba47"/><stop offset="0.026" stop-color="#5dba47"/><stop offset="0.051" stop-color="#5dba47"/><stop offset="0.077" stop-color="#5dba47"/><stop offset="0.103" stop-color="#5dba47"/><stop offset="0.128" stop-color="#5dba47"/><stop offset="0.154" stop-color="#5ab848"/><stop offset="0.179" stop-color="#57b748"/><stop offset="0.205" stop-color="#55b549"/><stop offset="0.231" stop-color="#54b54e"/><stop offset="0.256" stop-color="#54b54a"/><stop offset="0.282" stop-color="#55b549"/><stop offset="0.308" stop-color="#56b649"/><stop offset="0.333" stop-color="#57b748"/><stop offset="0.359" stop-color="#58b748"/><stop offset="0.385" stop-color="#5ab848"/><stop offset="0.410" stop-color="#5bb947"/><stop offset="0.436" stop-color="#5dba47"/><stop offset="0.462" stop-color="#5dba47"/><stop offset="0.487" stop-color="#5dba47"/><stop offset="0.513" stop-color="#5dba47"/><stop offset="0.538" stop-color="#5dba47"/><stop offset="0.564" stop-color="#5dba47"/><stop offset="0.590" stop-color="#5fba47"/><stop offset="0.615" stop-color="#60ba46"/><stop offset="0.641" stop-color="#62ba46"/><stop offset="0.667" stop-color="#63bb46"/><stop offset="0.692" stop-color="#64bb46"/><stop offset="0.718" stop-color="#66bb46"/><stop offset="0.744" stop-color="#67bb45"/><stop offset="0.769" stop-color="#68bb45"/><stop offset="0.795" stop-color="#66bb46"/><stop offset="0.821" stop-color="#63bb46"/><stop offset="0.846" stop-color="#61ba46"/><stop offset="0.872" stop-color="#5dba47"/><stop offset="0.897" stop-color="#5dba47"/><stop offset="0.923" stop-color="#5dba47"/><stop offset="0.949" stop-color="#5dba47"/><stop offset="0.974" stop-color="#5dba47"/><stop offset="1.000" stop-color="#5dba47"/></linearGradient>
<linearGradient id="d3" gradientUnits="userSpaceOnUse" x1="0" y1="833.8" x2="0" y2="907.7"><stop offset="0.000" stop-color="#5dba47"/><stop offset="0.026" stop-color="#5dba47"/><stop offset="0.051" stop-color="#5dba47"/><stop offset="0.077" stop-color="#5dba47"/><stop offset="0.103" stop-color="#5dba47"/><stop offset="0.128" stop-color="#5bb948"/><stop offset="0.154" stop-color="#57b748"/><stop offset="0.179" stop-color="#54b54b"/><stop offset="0.205" stop-color="#55b554"/><stop offset="0.231" stop-color="#55b55c"/><stop offset="0.256" stop-color="#55b558"/><stop offset="0.282" stop-color="#55b554"/><stop offset="0.308" stop-color="#54b54f"/><stop offset="0.333" stop-color="#54b54b"/><stop offset="0.359" stop-color="#55b649"/><stop offset="0.385" stop-color="#57b748"/><stop offset="0.410" stop-color="#59b848"/><stop offset="0.436" stop-color="#5bb947"/><stop offset="0.462" stop-color="#5dba47"/><stop offset="0.487" stop-color="#5dba47"/><stop offset="0.513" stop-color="#5dba47"/><stop offset="0.538" stop-color="#5dba47"/><stop offset="0.564" stop-color="#5fba47"/><stop offset="0.590" stop-color="#61ba46"/><stop offset="0.615" stop-color="#63bb46"/><stop offset="0.641" stop-color="#65bb46"/><stop offset="0.667" stop-color="#67bb45"/><stop offset="0.692" stop-color="#69bb45"/><stop offset="0.718" stop-color="#6dbc44"/><stop offset="0.744" stop-color="#72bd43"/><stop offset="0.769" stop-color="#77be42"/><stop offset="0.795" stop-color="#6dbc44"/><stop offset="0.821" stop-color="#67bb45"/><stop offset="0.846" stop-color="#64bb46"/><stop offset="0.872" stop-color="#5fba47"/><stop offset="0.897" stop-color="#5dba47"/><stop offset="0.923" stop-color="#5dba47"/><stop offset="0.949" stop-color="#5dba47"/><stop offset="0.974" stop-color="#5dba47"/><stop offset="1.000" stop-color="#5dba47"/></linearGradient>
<linearGradient id="d4" gradientUnits="userSpaceOnUse" x1="0" y1="833.8" x2="0" y2="907.7"><stop offset="0.000" stop-color="#5dba47"/><stop offset="0.026" stop-color="#5dba47"/><stop offset="0.051" stop-color="#5dba47"/><stop offset="0.077" stop-color="#5dba47"/><stop offset="0.103" stop-color="#5dba47"/><stop offset="0.128" stop-color="#59b848"/><stop offset="0.154" stop-color="#54b549"/><stop offset="0.179" stop-color="#55b555"/><stop offset="0.205" stop-color="#56b561"/><stop offset="0.231" stop-color="#5cb873"/><stop offset="0.256" stop-color="#59b76a"/><stop offset="0.282" stop-color="#56b561"/><stop offset="0.308" stop-color="#55b55a"/><stop offset="0.333" stop-color="#55b554"/><stop offset="0.359" stop-color="#54b54e"/><stop offset="0.385" stop-color="#54b549"/><stop offset="0.410" stop-color="#57b648"/><stop offset="0.436" stop-color="#59b848"/><stop offset="0.462" stop-color="#5cba47"/><stop offset="0.487" stop-color="#5dba47"/><stop offset="0.513" stop-color="#5dba47"/><stop offset="0.538" stop-color="#5eba47"/><stop offset="0.564" stop-color="#61ba46"/><stop offset="0.590" stop-color="#64bb46"/><stop offset="0.615" stop-color="#66bb45"/><stop offset="0.641" stop-color="#68bb45"/><stop offset="0.667" stop-color="#6ebc44"/><stop offset="0.692" stop-color="#75bd42"/><stop offset="0.718" stop-color="#7bbf41"/><stop offset="0.744" stop-color="#82c03f"/><stop offset="0.769" stop-color="#8ac33d"/><stop offset="0.795" stop-color="#7bbf41"/><stop offset="0.821" stop-color="#6fbc44"/><stop offset="0.846" stop-color="#66bb45"/><stop offset="0.872" stop-color="#61ba46"/><stop offset="0.897" stop-color="#5dba47"/><stop offset="0.923" stop-color="#5dba47"/><stop offset="0.949" stop-color="#5dba47"/><stop offset="0.974" stop-color="#5dba47"/><stop offset="1.000" stop-color="#5dba47"/></linearGradient>
<linearGradient id="d5" gradientUnits="userSpaceOnUse" x1="0" y1="833.8" x2="0" y2="907.7"><stop offset="0.000" stop-color="#5dba47"/><stop offset="0.026" stop-color="#5dba47"/><stop offset="0.051" stop-color="#5dba47"/><stop offset="0.077" stop-color="#5dba47"/><stop offset="0.103" stop-color="#5dba47"/><stop offset="0.128" stop-color="#57b748"/><stop offset="0.154" stop-color="#54b550"/><stop offset="0.179" stop-color="#55b55e"/><stop offset="0.205" stop-color="#5cb976"/><stop offset="0.231" stop-color="#64bc8b"/><stop offset="0.256" stop-color="#60bb81"/><stop offset="0.282" stop-color="#5cb975"/><stop offset="0.308" stop-color="#59b76a"/><stop offset="0.333" stop-color="#55b55e"/><stop offset="0.359" stop-color="#55b557"/><stop offset="0.385" stop-color="#54b54f"/><stop offset="0.410" stop-color="#54b549"/><stop offset="0.436" stop-color="#58b748"/><stop offset="0.462" stop-color="#5bb947"/><stop offset="0.487" stop-color="#5dba47"/><stop offset="0.513" stop-color="#5dba47"/><stop offset="0.538" stop-color="#5fba47"/><stop offset="0.564" stop-color="#63ba46"/><stop offset="0.590" stop-color="#66bb46"/><stop offset="0.615" stop-color="#69bb45"/><stop offset="0.641" stop-color="#71bd43"/><stop offset="0.667" stop-color="#79be41"/><stop offset="0.692" stop-color="#81c03f"/><stop offset="0.718" stop-color="#8cc33d"/><stop offset="0.744" stop-color="#97c73a"/><stop offset="0.769" stop-color="#a1ca38"/><stop offset="0.795" stop-color="#8cc33d"/><stop offset="0.821" stop-color="#7abe41"/><stop offset="0.846" stop-color="#69bb45"/><stop offset="0.872" stop-color="#63bb46"/><stop offset="0.897" stop-color="#5dba47"/><stop offset="0.923" stop-color="#5dba47"/><stop offset="0.949" stop-color="#5dba47"/><stop offset="0.974" stop-color="#5dba47"/><stop offset="1.000" stop-color="#5dba47"/></linearGradient>
<linearGradient id="d6" gradientUnits="userSpaceOnUse" x1="0" y1="833.8" x2="0" y2="907.7"><stop offset="0.000" stop-color="#5dba47"/><stop offset="0.026" stop-color="#5dba47"/><stop offset="0.051" stop-color="#5dba47"/><stop offset="0.077" stop-color="#5dba47"/><stop offset="0.103" stop-color="#5dba47"/><stop offset="0.128" stop-color="#55b649"/><stop offset="0.154" stop-color="#55b557"/><stop offset="0.179" stop-color="#5ab86f"/><stop offset="0.205" stop-color="#63bc8a"/><stop offset="0.231" stop-color="#6dc2a1"/><stop offset="0.256" stop-color="#68bf96"/><stop offset="0.282" stop-color="#63bc89"/><stop offset="0.308" stop-color="#5fba7c"/><stop offset="0.333" stop-color="#5ab86e"/><stop offset="0.359" stop-color="#55b55f"/><stop offset="0.385" stop-color="#55b556"/><stop offset="0.410" stop-color="#54b54d"/><stop offset="0.436" stop-color="#56b649"/><stop offset="0.462" stop-color="#5ab848"/><stop offset="0.487" stop-color="#5dba47"/><stop offset="0.513" stop-color="#5dba47"/><stop offset="0.538" stop-color="#60ba46"/><stop offset="0.564" stop-color="#64bb46"/><stop offset="0.590" stop-color="#68bb45"/><stop offset="0.615" stop-color="#71bd43"/><stop offset="0.641" stop-color="#7bbf41"/><stop offset="0.667" stop-color="#85c13e"/><stop offset="0.692" stop-color="#92c53b"/><stop offset="0.718" stop-color="#9fc939"/><stop offset="0.744" stop-color="#accd36"/><stop offset="0.769" stop-color="#b9d233"/><stop offset="0.795" stop-color="#a0c938"/><stop offset="0.821" stop-color="#86c13e"/><stop offset="0.846" stop-color="#72bd43"/><stop offset="0.872" stop-color="#65bb46"/><stop offset="0.897" stop-color="#5dba47"/><stop offset="0.923" stop-color="#5dba47"/><stop offset="0.949" stop-color="#5dba47"/><stop offset="0.974" stop-color="#5dba47"/><stop offset="1.000" stop-color="#5dba47"/></linearGradient>
<linearGradient id="d7" gradientUnits="userSpaceOnUse" x1="0" y1="833.8" x2="0" y2="907.7"><stop offset="0.000" stop-color="#5dba47"/><stop offset="0.026" stop-color="#5dba47"/><stop offset="0.051" stop-color="#5dba47"/><stop offset="0.077" stop-color="#5dba47"/><stop offset="0.103" stop-color="#5dba47"/><stop offset="0.128" stop-color="#54b54a"/><stop offset="0.154" stop-color="#55b55e"/><stop offset="0.179" stop-color="#60ba7f"/><stop offset="0.205" stop-color="#6bc09c"/><stop offset="0.231" stop-color="#76c7b6"/><stop offset="0.256" stop-color="#71c4a9"/><stop offset="0.282" stop-color="#6bc09c"/><stop offset="0.308" stop-color="#64bd8d"/><stop offset="0.333" stop-color="#5fba7e"/><stop offset="0.359" stop-color="#5ab76e"/><stop offset="0.385" stop-color="#55b55d"/><stop offset="0.410" stop-color="#54b553"/><stop offset="0.436" stop-color="#54b549"/><stop offset="0.462" stop-color="#59b848"/><stop offset="0.487" stop-color="#5dba47"/><stop offset="0.513" stop-color="#5dba47"/><stop offset="0.538" stop-color="#61ba46"/><stop offset="0.564" stop-color="#66bb45"/><stop offset="0.590" stop-color="#6dbc44"/><stop offset="0.615" stop-color="#79be41"/><stop offset="0.641" stop-color="#85c13e"/><stop offset="0.667" stop-color="#94c63b"/><stop offset="0.692" stop-color="#a4cb38"/><stop offset="0.718" stop-color="#b2cf34"/><stop offset="0.744" stop-color="#c4d630"/><stop offset="0.769" stop-color="#d6dd2c"/><stop offset="0.795" stop-color="#b2cf34"/><stop offset="0.821" stop-color="#95c63b"/><stop offset="0.846" stop-color="#7abe41"/><stop offset="0.872" stop-color="#67bb45"/><stop offset="0.897" stop-color="#5dba47"/><stop offset="0.923" stop-color="#5dba47"/><stop offset="0.949" stop-color="#5dba47"/><stop offset="0.974" stop-color="#5dba47"/><stop offset="1.000" stop-color="#5dba47"/></linearGradient>
<linearGradient id="d8" gradientUnits="userSpaceOnUse" x1="0" y1="833.8" x2="0" y2="907.7"><stop offset="0.000" stop-color="#5dba47"/><stop offset="0.026" stop-color="#5dba47"/><stop offset="0.051" stop-color="#5dba47"/><stop offset="0.077" stop-color="#5dba47"/><stop offset="0.103" stop-color="#5cba47"/><stop offset="0.128" stop-color="#54b54f"/><stop offset="0.154" stop-color="#59b76b"/><stop offset="0.179" stop-color="#65bd8f"/><stop offset="0.205" stop-color="#72c5ae"/><stop offset="0.231" stop-color="#7ccac0"/><stop offset="0.256" stop-color="#78c8b9"/><stop offset="0.282" stop-color="#72c5ad"/><stop offset="0.308" stop-color="#6cc19e"/><stop offset="0.333" stop-color="#64bd8d"/><stop offset="0.359" stop-color="#5eba7c"/><stop offset="0.385" stop-color="#58b768"/><stop offset="0.410" stop-color="#55b559"/><stop offset="0.436" stop-color="#54b54c"/><stop offset="0.462" stop-color="#58b748"/><stop offset="0.487" stop-color="#5dba47"/><stop offset="0.513" stop-color="#5dba47"/><stop offset="0.538" stop-color="#63ba46"/><stop offset="0.564" stop-color="#68bb45"/><stop offset="0.590" stop-color="#73bd43"/><stop offset="0.615" stop-color="#80c03f"/><stop offset="0.641" stop-color="#92c53b"/><stop offset="0.667" stop-color="#a4cb38"/><stop offset="0.692" stop-color="#b4d034"/><stop offset="0.718" stop-color="#cad82f"/><stop offset="0.744" stop-color="#dee02a"/><stop offset="0.769" stop-color="#ece627"/><stop offset="0.795" stop-color="#cad82f"/><stop offset="0.821" stop-color="#a5cb37"/><stop offset="0.846" stop-color="#82c03f"/><stop offset="0.872" stop-color="#68bb45"/><stop offset="0.897" stop-color="#5eba47"/><stop offset="0.923" stop-color="#5dba47"/><stop offset="0.949" stop-color="#5dba47"/><stop offset="0.974" stop-color="#5dba47"/><stop offset="1.000" stop-color="#5dba47"/></linearGradient>
<linearGradient id="d9" gradientUnits="userSpaceOnUse" x1="0" y1="833.8" x2="0" y2="907.7"><stop offset="0.000" stop-color="#5dba47"/><stop offset="0.026" stop-color="#5dba47"/><stop offset="0.051" stop-color="#5dba47"/><stop offset="0.077" stop-color="#5dba47"/><stop offset="0.103" stop-color="#5cb947"/><stop offset="0.128" stop-color="#54b553"/><stop offset="0.154" stop-color="#5db977"/><stop offset="0.179" stop-color="#6bc19d"/><stop offset="0.205" stop-color="#79c8bb"/><stop offset="0.231" stop-color="#77cacc"/><stop offset="0.256" stop-color="#7dcac2"/><stop offset="0.282" stop-color="#78c8ba"/><stop offset="0.308" stop-color="#72c5ae"/><stop offset="0.333" stop-color="#6bc09c"/><stop offset="0.359" stop-color="#63bc89"/><stop offset="0.385" stop-color="#5cb974"/><stop offset="0.410" stop-color="#55b55e"/><stop offset="0.436" stop-color="#54b551"/><stop offset="0.462" stop-color="#57b648"/><stop offset="0.487" stop-color="#5dba47"/><stop offset="0.513" stop-color="#5dba47"/><stop offset="0.538" stop-color="#64bb46"/><stop offset="0.564" stop-color="#6abb45"/><stop offset="0.590" stop-color="#7abe41"/><stop offset="0.615" stop-color="#8bc33d"/><stop offset="0.641" stop-color="#9fc939"/><stop offset="0.667" stop-color="#b2cf34"/><stop offset="0.692" stop-color="#cad82f"/><stop offset="0.718" stop-color="#e1e129"/><stop offset="0.744" stop-color="#f0e826"/><stop offset="0.769" stop-color="#f9e724"/><stop offset="0.795" stop-color="#e2e129"/><stop offset="0.821" stop-color="#b4d034"/><stop offset="0.846" stop-color="#8dc43c"/><stop offset="0.872" stop-color="#6dbc44"/><stop offset="0.897" stop-color="#5eba47"/><stop offset="0.923" stop-color="#5dba47"/><stop offset="0.949" stop-color="#5dba47"/><stop offset="0.974" stop-color="#5dba47"/><stop offset="1.000" stop-color="#5dba47"/></linearGradient>
<radialGradient id="hb" cx="0.5" cy="0.5" r="0.5"><stop offset="0" stop-color="#3a66cc"/><stop offset="0.3" stop-color="#2f8fe0"/><stop offset="0.6" stop-color="#30b4e6" stop-opacity="0.8"/><stop offset="1" stop-color="#80ccc8" stop-opacity="0"/></radialGradient>
<radialGradient id="hr" cx="0.5" cy="0.5" r="0.5"><stop offset="0" stop-color="#ea3a28"/><stop offset="0.3" stop-color="#f0702a"/><stop offset="0.6" stop-color="#f6a822" stop-opacity="0.85"/><stop offset="1" stop-color="#f8ec25" stop-opacity="0"/></radialGradient>
<linearGradient id="cbar" x1="0" y1="0" x2="0" y2="1"><stop offset="0.0000" stop-color="#ea3a28"/><stop offset="0.0833" stop-color="#ee6a25"/><stop offset="0.1528" stop-color="#f59a20"/><stop offset="0.2167" stop-color="#fbd821"/><stop offset="0.2361" stop-color="#f8ec25"/><stop offset="0.2778" stop-color="#c9d62d"/><stop offset="0.3611" stop-color="#84bf40"/><stop offset="0.5000" stop-color="#5dba47"/><stop offset="0.5972" stop-color="#4cb04a"/><stop offset="0.6389" stop-color="#58b676"/><stop offset="0.7222" stop-color="#6fc3ae"/><stop offset="0.7639" stop-color="#72c6bf"/><stop offset="0.7917" stop-color="#3fc0e0"/><stop offset="0.8111" stop-color="#22aee8"/><stop offset="0.8611" stop-color="#3e78c2"/><stop offset="0.9167" stop-color="#4155a6"/><stop offset="0.9583" stop-color="#3f3095"/><stop offset="1.0000" stop-color="#3f2d91"/></linearGradient></defs>
<path d="M105.40 682.6 V920.8 M156.26 682.6 V920.8 M207.12 682.6 V920.8 M257.98 682.6 V920.8 M308.84 682.6 V920.8 M359.70 682.6 V920.8 M410.56 682.6 V920.8 M461.42 682.6 V920.8 M512.28 682.6 V920.8 M563.14 682.6 V920.8 M614.00 682.6 V920.8 M664.86 682.6 V920.8 M715.72 682.6 V920.8 M766.58 682.6 V920.8 M817.44 682.6 V920.8" stroke="#3c3c3c" stroke-width="1.1" fill="none"/>
<path d="M79.7 896.20 H846.8 M79.7 870.74 H846.8 M79.7 845.28 H846.8 M79.7 819.82 H846.8 M79.7 794.36 H846.8 M79.7 768.90 H846.8 M79.7 743.44 H846.8 M79.7 717.98 H846.8 M79.7 692.52 H846.8" stroke="#333" stroke-width="1.1" fill="none"/>
<path d="M79.7 682.6 H846.8 V920.8" stroke="#555" stroke-width="1.1" fill="none"/>
<path d="M79.7 682.6 V920.8 H846.8" stroke="#8a8a8a" stroke-width="1.5" fill="none"/>
<path d="M105.40 920.8 v5.5 M156.26 920.8 v5.5 M207.12 920.8 v5.5 M257.98 920.8 v5.5 M308.84 920.8 v5.5 M359.70 920.8 v5.5 M410.56 920.8 v5.5 M461.42 920.8 v5.5 M512.28 920.8 v5.5 M563.14 920.8 v5.5 M614.00 920.8 v5.5 M664.86 920.8 v5.5 M715.72 920.8 v5.5 M766.58 920.8 v5.5 M817.44 920.8 v5.5 M79.7 896.20 h-6.5 M79.7 870.74 h-6.5 M79.7 845.28 h-6.5 M79.7 819.82 h-6.5 M79.7 794.36 h-6.5 M79.7 768.90 h-6.5 M79.7 743.44 h-6.5 M79.7 717.98 h-6.5 M79.7 692.52 h-6.5" stroke="#444" stroke-width="1.1" fill="none"/>
<rect x="78.7" y="819.82" width="281.30" height="101.28" fill="#5dba47"/>
<polygon points="359.7,845.3 364.4,845.2 369.2,845.1 373.9,845.0 378.6,844.7 383.4,844.4 388.1,844.1 392.9,843.6 397.7,843.2 402.4,842.6 407.2,842.1 411.9,841.4 416.7,840.7 421.5,840.0 426.2,839.2 431.0,838.3 435.8,837.4 440.5,836.5 445.3,835.5 450.0,834.5 454.8,833.4 459.6,832.3 464.3,831.2 469.0,830.0 473.8,828.8 478.5,827.5 483.3,826.2 488.0,824.9 492.7,823.5 497.4,822.1 502.2,820.7 506.9,819.3 511.6,817.8 516.3,816.3 521.0,814.7 525.7,813.2 530.4,811.6 535.1,810.0 539.8,808.3 544.4,806.7 549.1,805.0 553.8,803.3 558.5,801.5 563.1,799.8 567.8,798.0 572.4,796.2 577.1,794.4 581.7,792.6 586.4,790.8 591.0,788.9 595.7,787.0 600.3,785.1 604.9,783.2 609.6,781.3 614.2,779.4 618.8,777.4 623.4,775.5 628.0,773.5 632.7,771.5 637.3,769.5 641.9,767.5 646.5,765.5 651.1,763.4 655.7,761.4 660.3,759.3 664.9,757.3 669.5,755.2 674.1,753.1 678.6,751.0 683.2,748.9 687.8,746.8 692.4,744.7 697.0,742.6 701.6,740.4 706.1,738.3 710.7,736.1 715.3,734.0 719.9,731.8 724.4,729.7 729.0,727.5 733.6,725.3 738.1,723.2 742.7,721.0 747.3,718.8 751.8,716.6 756.4,714.4 761.0,712.2 765.5,710.0 770.1,707.8 774.7,705.6 779.2,703.4 783.8,701.1 788.4,698.9 792.9,696.7 797.5,694.5 802.1,692.3 806.6,690.0 811.2,687.8 815.8,685.6 820.4,683.3 824.9,681.1 847.7,728.1 843.1,730.3 838.6,732.5 834.0,734.7 829.4,736.9 824.8,739.2 820.2,741.4 815.6,743.6 811.0,745.8 806.5,748.0 801.9,750.2 797.3,752.5 792.7,754.7 788.1,756.9 783.5,759.1 778.9,761.3 774.3,763.5 769.6,765.7 765.0,767.9 760.4,770.1 755.8,772.3 751.2,774.5 746.5,776.6 741.9,778.8 737.3,781.0 732.6,783.1 728.0,785.3 723.4,787.5 718.7,789.6 714.1,791.8 709.4,793.9 704.7,796.0 700.1,798.2 695.4,800.3 690.7,802.4 686.0,804.5 681.3,806.6 676.6,808.7 671.9,810.7 667.2,812.8 662.5,814.9 657.8,816.9 653.1,818.9 648.3,821.0 643.6,823.0 638.8,825.0 634.1,827.0 629.3,829.0 624.5,830.9 619.8,832.9 615.0,834.8 610.2,836.8 605.4,838.7 600.5,840.6 595.7,842.4 590.9,844.3 586.0,846.2 581.2,848.0 576.3,849.8 571.4,851.6 566.6,853.4 561.7,855.1 556.7,856.8 551.8,858.5 546.9,860.2 541.9,861.9 537.0,863.5 532.0,865.1 527.0,866.7 522.0,868.3 517.0,869.8 512.0,871.3 507.0,872.8 501.9,874.2 496.8,875.6 491.8,877.0 486.7,878.4 481.5,879.7 476.4,880.9 471.3,882.2 466.1,883.3 460.9,884.5 455.7,885.6 450.5,886.6 445.3,887.7 440.1,888.6 434.8,889.5 429.6,890.4 424.3,891.2 419.0,892.0 413.6,892.7 408.3,893.3 403.0,893.9 397.6,894.4 392.2,894.9 386.8,895.3 381.4,895.6 376.0,895.9 370.6,896.1 365.1,896.2 359.7,896.2" fill="#5dba47"/>
<polygon points="359.7,845.3 363.2,845.3 366.8,845.2 368.0,845.2 369.2,896.1 367.9,896.1 363.8,896.2 359.7,896.2" fill="url(#g0)"/>
<polygon points="365.6,845.2 369.2,845.1 372.7,845.0 373.9,845.0 376.0,895.9 374.7,895.9 370.6,896.1 366.5,896.1" fill="url(#g1)"/>
<polygon points="371.5,845.1 375.1,844.9 378.6,844.7 379.8,844.7 382.8,895.5 381.4,895.6 377.4,895.8 373.3,896.0" fill="url(#g2)"/>
<polygon points="377.5,844.8 382.2,844.5 387.0,844.2 390.9,895.0 385.5,895.4 380.1,895.7" fill="url(#g3)"/>
<polygon points="384.6,844.3 388.1,844.1 391.7,843.8 392.9,843.6 397.6,894.4 396.3,894.6 392.2,894.9 388.2,895.2" fill="url(#g4)"/>
<polygon points="390.5,843.9 394.1,843.5 397.7,843.2 398.8,843.0 404.3,893.8 403.0,893.9 398.9,894.3 394.9,894.7" fill="url(#g5)"/>
<polygon points="396.5,843.3 400.0,842.9 403.6,842.5 404.8,842.4 411.0,893.0 409.6,893.2 405.6,893.6 401.6,894.1" fill="url(#g6)"/>
<polygon points="402.4,842.6 407.2,842.1 411.9,841.4 419.0,892.0 413.6,892.7 408.3,893.3" fill="url(#g7)"/>
<polygon points="409.6,841.7 413.1,841.2 416.7,840.7 417.9,840.5 425.6,891.0 424.3,891.2 420.3,891.8 416.3,892.3" fill="url(#g8)"/>
<polygon points="415.5,840.9 419.1,840.3 422.7,839.8 423.9,839.6 432.2,890.0 430.9,890.2 426.9,890.8 422.9,891.4" fill="url(#g9)"/>
<polygon points="421.5,840.0 426.2,839.2 431.0,838.3 440.1,888.6 434.8,889.5 429.6,890.4" fill="url(#g10)"/>
<polygon points="428.6,838.8 432.2,838.1 435.8,837.4 437.0,837.2 446.6,887.4 445.3,887.7 441.4,888.4 437.5,889.1" fill="url(#g11)"/>
<polygon points="434.6,837.7 438.2,837.0 441.7,836.3 442.9,836.0 453.1,886.1 451.8,886.4 447.9,887.2 444.0,887.9" fill="url(#g12)"/>
<polygon points="440.5,836.5 444.1,835.8 447.7,835.0 448.9,834.8 459.6,884.8 458.3,885.0 454.4,885.9 450.5,886.6" fill="url(#g13)"/>
<polygon points="446.5,835.3 451.2,834.2 456.0,833.2 467.4,883.0 462.2,884.2 457.0,885.3" fill="url(#g14)"/>
<polygon points="453.6,833.7 457.2,832.9 460.7,832.0 461.9,831.8 473.8,881.5 472.6,881.8 468.7,882.7 464.8,883.6" fill="url(#g15)"/>
<polygon points="459.6,832.3 463.1,831.5 466.7,830.6 467.9,830.3 480.3,880.0 479.0,880.3 475.1,881.2 471.3,882.2" fill="url(#g16)"/>
<polygon points="465.5,830.9 470.2,829.7 475.0,828.5 487.9,878.0 482.8,879.3 477.7,880.6" fill="url(#g17)"/>
<polygon points="472.6,829.1 476.2,828.1 479.7,827.2 480.9,826.9 494.3,876.3 493.0,876.7 489.2,877.7 485.4,878.7" fill="url(#g18)"/>
<polygon points="478.5,827.5 482.1,826.6 485.6,825.6 486.8,825.2 500.6,874.6 499.4,874.9 495.6,876.0 491.8,877.0" fill="url(#g19)"/>
<polygon points="484.4,825.9 488.0,824.9 491.5,823.9 492.7,823.5 507.0,872.8 505.7,873.2 501.9,874.2 498.1,875.3" fill="url(#g20)"/>
<polygon points="490.4,824.2 495.1,822.8 499.8,821.4 514.5,870.6 509.5,872.1 504.4,873.5" fill="url(#g21)"/>
<polygon points="497.4,822.1 501.0,821.1 504.5,820.0 505.7,819.6 520.8,868.7 519.5,869.1 515.8,870.2 512.0,871.3" fill="url(#g22)"/>
<polygon points="503.3,820.4 506.9,819.3 510.4,818.2 511.6,817.8 527.0,866.7 525.8,867.1 522.0,868.3 518.3,869.4" fill="url(#g23)"/>
<polygon points="509.2,818.5 513.9,817.0 518.6,815.5 534.5,864.3 529.5,865.9 524.5,867.5" fill="url(#g24)"/>
<polygon points="516.3,816.3 519.8,815.1 523.3,814.0 524.5,813.6 540.7,862.3 539.5,862.7 535.7,863.9 532.0,865.1" fill="url(#g25)"/>
<polygon points="522.2,814.4 525.7,813.2 529.2,812.0 530.4,811.6 546.9,860.2 545.7,860.7 541.9,861.9 538.2,863.1" fill="url(#g26)"/>
<polygon points="528.0,812.4 531.6,811.2 535.1,810.0 536.2,809.6 553.1,858.1 551.8,858.5 548.1,859.8 544.4,861.1" fill="url(#g27)"/>
<polygon points="533.9,810.4 538.6,808.7 543.3,807.1 560.4,855.5 555.5,857.3 550.6,859.0" fill="url(#g28)"/>
<polygon points="540.9,807.9 544.4,806.7 547.9,805.4 549.1,805.0 566.6,853.4 565.3,853.8 561.7,855.1 558.0,856.4" fill="url(#g29)"/>
<polygon points="546.8,805.8 550.3,804.6 553.8,803.3 555.0,802.8 572.7,851.1 571.4,851.6 567.8,852.9 564.1,854.2" fill="url(#g30)"/>
<polygon points="552.6,803.7 556.1,802.4 559.6,801.1 560.8,800.7 578.8,848.9 577.5,849.3 573.9,850.7 570.2,852.0" fill="url(#g31)"/>
<polygon points="558.5,801.5 563.1,799.8 567.8,798.0 586.0,846.2 581.2,848.0 576.3,849.8" fill="url(#g32)"/>
<polygon points="565.5,798.9 568.9,797.6 572.4,796.2 573.6,795.8 592.1,843.8 590.9,844.3 587.3,845.7 583.6,847.1" fill="url(#g33)"/>
<polygon points="571.3,796.7 574.8,795.3 578.3,794.0 579.4,793.5 598.1,841.5 596.9,842.0 593.3,843.4 589.7,844.8" fill="url(#g34)"/>
<polygon points="577.1,794.4 581.7,792.6 586.4,790.8 605.4,838.7 600.5,840.6 595.7,842.4" fill="url(#g35)"/>
<polygon points="584.1,791.7 587.5,790.3 591.0,788.9 592.2,788.4 611.4,836.3 610.2,836.8 606.6,838.2 603.0,839.6" fill="url(#g36)"/>
<polygon points="589.9,789.4 593.3,788.0 596.8,786.6 598.0,786.1 617.4,833.9 616.2,834.3 612.6,835.8 609.0,837.2" fill="url(#g37)"/>
<polygon points="595.7,787.0 599.1,785.6 602.6,784.2 603.8,783.7 623.3,831.4 622.1,831.9 618.6,833.4 615.0,834.8" fill="url(#g38)"/>
<polygon points="601.5,784.7 606.1,782.8 610.7,780.8 630.5,828.5 625.7,830.4 621.0,832.4" fill="url(#g39)"/>
<polygon points="608.4,781.8 611.9,780.3 615.3,778.9 616.5,778.4 636.5,826.0 635.3,826.5 631.7,828.0 628.1,829.5" fill="url(#g40)"/>
<polygon points="614.2,779.4 617.7,777.9 621.1,776.4 622.3,776.0 642.4,823.5 641.2,824.0 637.6,825.5 634.1,827.0" fill="url(#g41)"/>
<polygon points="620.0,776.9 624.6,775.0 629.2,773.0 649.5,820.5 644.8,822.5 640.0,824.5" fill="url(#g42)"/>
<polygon points="626.9,774.0 630.3,772.5 633.8,771.0 635.0,770.5 655.4,817.9 654.2,818.4 650.7,820.0 647.1,821.5" fill="url(#g43)"/>
<polygon points="632.7,771.5 636.1,770.0 639.6,768.5 640.7,768.0 661.3,815.4 660.1,815.9 656.6,817.4 653.1,818.9" fill="url(#g44)"/>
<polygon points="638.4,769.0 641.9,767.5 645.3,766.0 646.5,765.5 667.2,812.8 666.0,813.3 662.5,814.9 659.0,816.4" fill="url(#g45)"/>
<polygon points="644.2,766.5 648.8,764.4 653.4,762.4 674.3,809.7 669.6,811.8 664.9,813.8" fill="url(#g46)"/>
<polygon points="651.1,763.4 654.5,761.9 658.0,760.4 659.1,759.8 680.2,807.1 679.0,807.6 675.5,809.2 671.9,810.7" fill="url(#g47)"/>
<polygon points="656.8,760.9 660.3,759.3 663.7,757.8 664.9,757.3 686.0,804.5 684.8,805.0 681.3,806.6 677.8,808.1" fill="url(#g48)"/>
<polygon points="662.6,758.3 667.2,756.2 671.8,754.1 693.0,801.3 688.4,803.4 683.7,805.5" fill="url(#g49)"/>
<clipPath id="cpb"><rect x="79.7" y="819.8" width="280.3" height="200"/><polygon points="359.7,845.3 364.4,845.2 369.2,845.1 373.9,845.0 378.6,844.7 383.4,844.4 388.1,844.1 392.9,843.6 397.7,843.2 402.4,842.6 407.2,842.1 411.9,841.4 416.7,840.7 421.5,840.0 426.2,839.2 431.0,838.3 435.8,837.4 440.5,836.5 445.3,835.5 450.0,834.5 454.8,833.4 459.6,832.3 464.3,831.2 469.0,830.0 473.8,828.8 478.5,827.5 483.3,826.2 488.0,824.9 492.7,823.5 497.4,822.1 502.2,820.7 506.9,819.3 511.6,817.8 516.3,816.3 521.0,814.7 525.7,813.2 530.4,811.6 535.1,810.0 539.8,808.3 544.4,806.7 549.1,805.0 553.8,803.3 558.5,801.5 563.1,799.8 567.8,798.0 572.4,796.2 577.1,794.4 581.7,792.6 586.4,790.8 591.0,788.9 595.7,787.0 600.3,785.1 604.9,783.2 609.6,781.3 614.2,779.4 618.8,777.4 623.4,775.5 628.0,773.5 632.7,771.5 637.3,769.5 641.9,767.5 646.5,765.5 651.1,763.4 655.7,761.4 660.3,759.3 664.9,757.3 669.5,755.2 674.1,753.1 678.6,751.0 683.2,748.9 687.8,746.8 692.4,744.7 697.0,742.6 701.6,740.4 706.1,738.3 710.7,736.1 715.3,734.0 719.9,731.8 724.4,729.7 729.0,727.5 733.6,725.3 738.1,723.2 742.7,721.0 747.3,718.8 751.8,716.6 756.4,714.4 761.0,712.2 765.5,710.0 770.1,707.8 774.7,705.6 779.2,703.4 783.8,701.1 788.4,698.9 792.9,696.7 797.5,694.5 802.1,692.3 806.6,690.0 811.2,687.8 815.8,685.6 820.4,683.3 824.9,681.1 847.7,728.1 843.1,730.3 838.6,732.5 834.0,734.7 829.4,736.9 824.8,739.2 820.2,741.4 815.6,743.6 811.0,745.8 806.5,748.0 801.9,750.2 797.3,752.5 792.7,754.7 788.1,756.9 783.5,759.1 778.9,761.3 774.3,763.5 769.6,765.7 765.0,767.9 760.4,770.1 755.8,772.3 751.2,774.5 746.5,776.6 741.9,778.8 737.3,781.0 732.6,783.1 728.0,785.3 723.4,787.5 718.7,789.6 714.1,791.8 709.4,793.9 704.7,796.0 700.1,798.2 695.4,800.3 690.7,802.4 686.0,804.5 681.3,806.6 676.6,808.7 671.9,810.7 667.2,812.8 662.5,814.9 657.8,816.9 653.1,818.9 648.3,821.0 643.6,823.0 638.8,825.0 634.1,827.0 629.3,829.0 624.5,830.9 619.8,832.9 615.0,834.8 610.2,836.8 605.4,838.7 600.5,840.6 595.7,842.4 590.9,844.3 586.0,846.2 581.2,848.0 576.3,849.8 571.4,851.6 566.6,853.4 561.7,855.1 556.7,856.8 551.8,858.5 546.9,860.2 541.9,861.9 537.0,863.5 532.0,865.1 527.0,866.7 522.0,868.3 517.0,869.8 512.0,871.3 507.0,872.8 501.9,874.2 496.8,875.6 491.8,877.0 486.7,878.4 481.5,879.7 476.4,880.9 471.3,882.2 466.1,883.3 460.9,884.5 455.7,885.6 450.5,886.6 445.3,887.7 440.1,888.6 434.8,889.5 429.6,890.4 424.3,891.2 419.0,892.0 413.6,892.7 408.3,893.3 403.0,893.9 397.6,894.4 392.2,894.9 386.8,895.3 381.4,895.6 376.0,895.9 370.6,896.1 365.1,896.2 359.7,896.2"/></clipPath>
<g clip-path="url(#cpb)"><rect x="339.86" y="833.8" width="2.38" height="73.8" fill="url(#d0)"/>
<rect x="341.85" y="833.8" width="2.38" height="73.8" fill="url(#d1)"/>
<rect x="343.83" y="833.8" width="2.38" height="73.8" fill="url(#d2)"/>
<rect x="345.82" y="833.8" width="2.38" height="73.8" fill="url(#d3)"/>
<rect x="347.80" y="833.8" width="2.38" height="73.8" fill="url(#d4)"/>
<rect x="349.78" y="833.8" width="2.38" height="73.8" fill="url(#d5)"/>
<rect x="351.77" y="833.8" width="2.38" height="73.8" fill="url(#d6)"/>
<rect x="353.75" y="833.8" width="2.38" height="73.8" fill="url(#d7)"/>
<rect x="355.73" y="833.8" width="2.38" height="73.8" fill="url(#d8)"/>
<rect x="357.72" y="833.8" width="2.78" height="73.8" fill="url(#d9)"/></g>
<g clip-path="url(#cpb)"><ellipse cx="361.2" cy="847.5" rx="5" ry="3.2" fill="url(#hb)"/><ellipse cx="361.2" cy="894.4" rx="6" ry="3.4" fill="url(#hr)"/></g>
<g font-family="'Liberation Sans', sans-serif" font-weight="bold" font-size="11" fill="#161616">
<text x="105.4" y="935.2" text-anchor="middle">-0.10</text>
<text x="156.3" y="935.2" text-anchor="middle">-0.08</text>
<text x="207.1" y="935.2" text-anchor="middle">-0.06</text>
<text x="258.0" y="935.2" text-anchor="middle">-0.04</text>
<text x="308.8" y="935.2" text-anchor="middle">-0.02</text>
<text x="359.7" y="935.2" text-anchor="middle">0.00</text>
<text x="410.6" y="935.2" text-anchor="middle">0.02</text>
<text x="461.4" y="935.2" text-anchor="middle">0.04</text>
<text x="512.3" y="935.2" text-anchor="middle">0.06</text>
<text x="563.1" y="935.2" text-anchor="middle">0.08</text>
<text x="614.0" y="935.2" text-anchor="middle">0.10</text>
<text x="664.9" y="935.2" text-anchor="middle">0.12</text>
<text x="715.7" y="935.2" text-anchor="middle">0.14</text>
<text x="766.6" y="935.2" text-anchor="middle">0.16</text>
<text x="817.4" y="935.2" text-anchor="middle">0.18</text>
<text x="73.3" y="899.4" text-anchor="end">-0.01</text>
<text x="73.3" y="873.9" text-anchor="end">0.00</text>
<text x="73.3" y="848.5" text-anchor="end">0.01</text>
<text x="73.3" y="823.0" text-anchor="end">0.02</text>
<text x="73.3" y="797.6" text-anchor="end">0.03</text>
<text x="73.3" y="772.1" text-anchor="end">0.04</text>
<text x="73.3" y="746.6" text-anchor="end">0.05</text>
<text x="73.3" y="721.2" text-anchor="end">0.06</text>
<text x="73.3" y="695.7" text-anchor="end">0.07</text>
</g>
<rect x="907" y="693.0" width="21.1" height="237.8" fill="url(#cbar)"/>
<g font-family="'Liberation Sans', sans-serif" font-weight="bold" font-size="14.5" fill="#161616">
<text x="941" y="697.0">1.8e+05</text>
<text x="941" y="716.8">1.5e+5</text>
<text x="941" y="749.8">1.0e+5</text>
<text x="941" y="782.9">5.0e+4</text>
<text x="941" y="815.9">0.0</text>
<text x="941" y="848.9">-5.0e+4</text>
<text x="941" y="882.0">-1.0e+5</text>
<text x="941" y="915.0">-1.5e+5</text>
<text x="941" y="934.8">-1.8e+05</text>
</g>
<path d="M924.6 693.00 H935.6 M924.6 712.82 H935.6 M924.6 745.84 H935.6 M924.6 778.87 H935.6 M924.6 811.90 H935.6 M924.6 844.93 H935.6 M924.6 877.96 H935.6 M924.6 910.98 H935.6 M924.6 930.80 H935.6" stroke="#444" stroke-width="1.1" fill="none"/>
<text font-family="'Liberation Serif', serif" fill="#111" transform="translate(1023.8 850.7) rotate(-90)"><tspan x="-0.59" y="0.00" font-size="29" font-style="italic" textLength="14.51" lengthAdjust="spacingAndGlyphs">σ</tspan><tspan x="17.00" y="4.80" font-size="19.8" font-style="italic" textLength="22.00" lengthAdjust="spacingAndGlyphs">xx</tspan><tspan x="44.18" y="2.60" font-size="33.7" textLength="5.79" lengthAdjust="spacingAndGlyphs">[</tspan><tspan x="51.45" y="0.00" font-size="29" font-style="italic" textLength="21.17" lengthAdjust="spacingAndGlyphs">P</tspan><tspan x="72.91" y="0.00" font-size="29" font-style="italic" textLength="14.78" lengthAdjust="spacingAndGlyphs">a</tspan><tspan x="86.78" y="2.60" font-size="33.7" textLength="5.79" lengthAdjust="spacingAndGlyphs">]</tspan></text>
<text font-family="'Liberation Serif', serif" fill="#111" transform="translate(23.1 837.2) rotate(-90)"><tspan x="1.77" y="0.00" font-size="22.3" font-style="italic" textLength="8.71" lengthAdjust="spacingAndGlyphs">y</tspan><tspan x="12.97" y="2.10" font-size="27.8" textLength="4.92" lengthAdjust="spacingAndGlyphs">[</tspan><tspan x="17.95" y="0.00" font-size="22.3" font-style="italic" textLength="20.46" lengthAdjust="spacingAndGlyphs">m</tspan><tspan x="37.96" y="2.10" font-size="27.8" textLength="4.92" lengthAdjust="spacingAndGlyphs">]</tspan></text>
<text font-family="'Liberation Serif', serif" fill="#111"><tspan x="433.59" y="967.80" font-size="22.6" font-style="italic" textLength="10.90" lengthAdjust="spacingAndGlyphs">x</tspan><tspan x="446.80" y="969.40" font-size="27.6" textLength="5.21" lengthAdjust="spacingAndGlyphs">[</tspan><tspan x="451.96" y="967.80" font-size="22.3" font-style="italic" textLength="20.24" lengthAdjust="spacingAndGlyphs">m</tspan><tspan x="471.83" y="969.40" font-size="27.6" textLength="5.21" lengthAdjust="spacingAndGlyphs">]</tspan></text>
<text font-family="'Liberation Serif', serif" font-size="39.5" letter-spacing="1.5" fill="#111" x="518.5" y="1018" text-anchor="middle">(b)</text>
</svg>
</body></html>
